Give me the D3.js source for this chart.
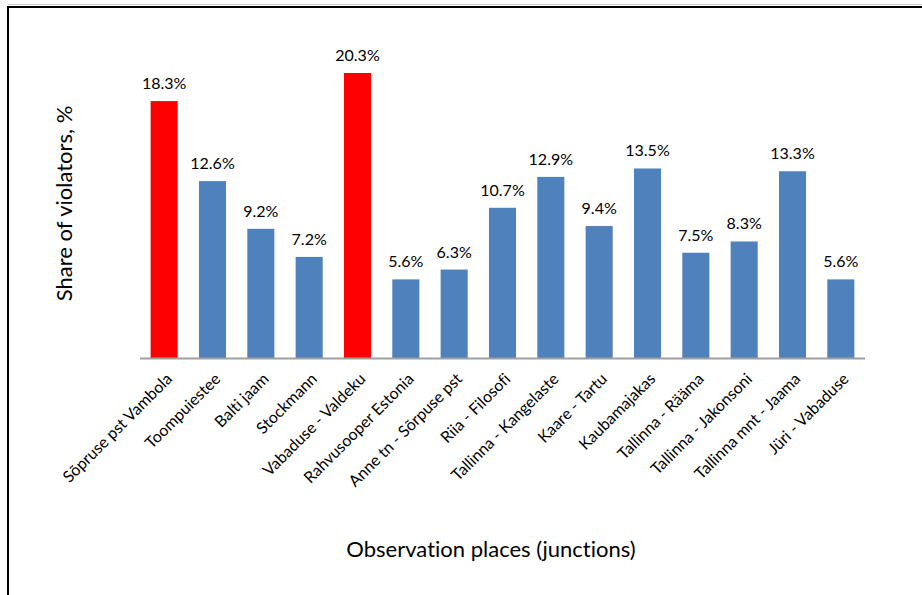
<!DOCTYPE html>
<html>
<head>
<meta charset="utf-8">
<script src="https://cdn.jsdelivr.net/npm/d3@7"></script>
<style>
  body { margin: 0; background: #fff; }
  svg { display: block; }
  text { font-family: Lato, "Open Sans", sans-serif; fill: #000; font-variant-ligatures: none; }
</style>
</head>
<body>
<div id="chart"></div>
<script>
var places = ["Sõpruse pst Vambola", "Toompuiestee", "Balti jaam", "Stockmann",
  "Vabaduse - Valdeku", "Rahvusooper Estonia", "Anne tn - Sõrpuse pst", "Riia - Filosofi",
  "Tallinna - Kangelaste", "Kaare - Tartu", "Kaubamajakas", "Tallinna - Rääma",
  "Tallinna - Jakonsoni", "Tallinna mnt - Jaama", "Jüri - Vabaduse"]
var shares = [18.3, 12.6, 9.2, 7.2, 20.3, 5.6, 6.3, 10.7, 12.9, 9.4, 13.5, 7.5, 8.3, 13.3, 5.6]
var highlighted = ["Sõpruse pst Vambola", "Vabaduse - Valdeku"]

var width = 922, height = 595
var margin = {top: 73, right: 57, bottom: 237, left: 140}
var innerW = width - margin.left - margin.right
var innerH = height - margin.top - margin.bottom

var svg = d3.select("#chart").append("svg")
    .attr("width", width)
    .attr("height", height)

// page frame
svg.append("path")
    .attr("d", "M8,600 V7 H930")
    .attr("fill", "none")
    .attr("stroke", "#000")
    .attr("stroke-width", 2)
svg.append("line")
    .attr("x1", 8).attr("x2", 930).attr("y1", 4.5).attr("y2", 4.5)
    .attr("stroke", "#d0d0d0")

var plot = svg.append("g")
    .attr("transform", `translate(${margin.left},${margin.top})`)

var xScale = d3.scaleBand().domain(places).range([0, innerW]).paddingInner(0.44).paddingOuter(0.22)
var yScale = d3.scaleLinear().domain([0, d3.max(shares)]).range([innerH, 0])

plot.selectAll("rect.bar")
    .data(places)
    .enter().append("rect")
    .attr("class", "bar")
    .attr("x", d => xScale(d))
    .attr("width", xScale.bandwidth())
    .attr("y", (d, i) => yScale(shares[i]))
    .attr("height", (d, i) => innerH - yScale(shares[i]))
    .attr("fill", d => highlighted.includes(d) ? "#ff0000" : "#4f81bd")

plot.selectAll("text.value")
    .data(places)
    .enter().append("text")
    .attr("class", "value")
    .attr("x", d => xScale(d) + xScale.bandwidth() / 2)
    .attr("y", (d, i) => yScale(shares[i]) - 12)
    .attr("text-anchor", "middle")
    .style("font-size", "16px")
    .text((d, i) => shares[i].toFixed(1) + "%")

var xAxis = d3.axisBottom(xScale).tickSize(0).tickPadding(0)
var gx = plot.append("g")
    .attr("class", "x axis")
    .attr("transform", `translate(0,${innerH})`)
    .call(xAxis)
gx.select(".domain").attr("stroke", "#a0a0a0").attr("stroke-width", 2)
    .attr("d", `M0,0.5H${innerW}`)
gx.selectAll(".tick text")
    .attr("transform", "translate(5,18) rotate(-45)")
    .attr("text-anchor", "end")
    .attr("dy", "0.35em")
    .attr("y", 0)
    .style("font-size", "16px")
    .style("font-family", "Lato, 'Open Sans', sans-serif")

svg.append("text")
    .attr("transform", `translate(72,${margin.top + innerH / 2 - 12}) rotate(-90)`)
    .attr("text-anchor", "middle")
    .style("font-size", "22px")
    .text("Share of violators, %")

svg.append("text")
    .attr("x", 491)
    .attr("y", 557)
    .attr("text-anchor", "middle")
    .style("font-size", "22px")
    .text("Observation places (junctions)")
</script>
</body>
</html>
